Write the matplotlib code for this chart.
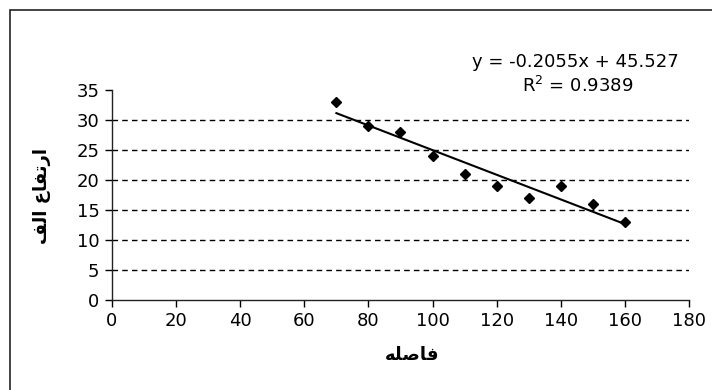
import numpy as np
import matplotlib
matplotlib.use("Agg")
import matplotlib.pyplot as plt
from matplotlib.patches import Rectangle

# data
distance = np.array([70, 80, 90, 100, 110, 120, 130, 140, 150, 160])
height = np.array([33, 29, 28, 24, 21, 19, 17, 19, 16, 13])
x_ticks = [0, 20, 40, 60, 80, 100, 120, 140, 160, 180]
y_ticks = [0, 5, 10, 15, 20, 25, 30, 35]
eq_text = "y = -0.2055x + 45.527"
r2_text = "R$^2$ = 0.9389"
# Arabic labels in presentation forms (visual order) so they render joined
x_label = "\uFEEA\uFEE0\uFEBB\uFE8E\uFED3"          # فاصله
y_label = "\uFED2\uFEDF\uFE8D \uFEC9\uFE8E\uFED4\uFE97\uFEAD\uFE8D"  # ارتفاع الف

plt.rcParams['font.family'] = ['DejaVu Sans']
plt.rcParams['mathtext.fontset'] = 'dejavusans'

fig = plt.figure(figsize=(7.12, 3.9), dpi=100)
ax = fig.add_axes([0.1573, 0.2308, 0.8104, 0.5384])

# outer chart border (left and top visible)
fig.patches.append(Rectangle((10 / 712, -0.1), 1.2, 1 - 10 / 390 + 0.1,
                             transform=fig.transFigure, fill=False,
                             edgecolor="#222222", linewidth=1.2))

ax.plot(distance, height, linestyle="none", marker="D", markersize=5,
        color="black", zorder=3)

slope, intercept = np.polyfit(distance, height, 1)
xs = np.array([distance.min(), distance.max()])
ax.plot(xs, slope * xs + intercept, color="black", linewidth=1.5, zorder=2)

ax.set_xlim(0, 180)
ax.set_ylim(0, 35)
ax.set_xticks(x_ticks)
ax.set_yticks(y_ticks)
ax.tick_params(labelsize=13, direction="out", length=5, width=1, pad=4)

for y in y_ticks[1:-1]:
    ax.axhline(y, color="black", linewidth=1, linestyle=(0, (4, 3)), zorder=1)

for s in ["top", "right"]:
    ax.spines[s].set_visible(False)
for s in ["left", "bottom"]:
    ax.spines[s].set_color("#222222")
    ax.spines[s].set_linewidth(1)

ax.text(144.4, 39.7, eq_text, ha="center", va="center", fontsize=13,
        clip_on=False)
ax.text(145.3, 35.6, r2_text, ha="center", va="center", fontsize=13,
        clip_on=False)

fig.text(412 / 712, 1 - 355 / 390, x_label, ha="center", va="center",
         fontsize=13, fontweight="bold")
fig.text(42 / 712, 1 - 196 / 390, y_label, ha="center", va="center",
         rotation=90, fontsize=13, fontweight="bold")

fig.savefig("out.png", dpi=100)
